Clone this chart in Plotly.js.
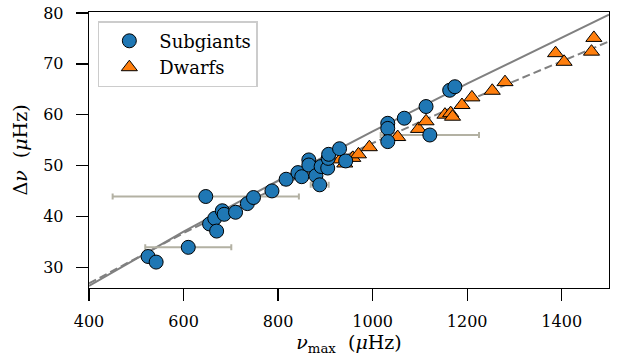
<!DOCTYPE html>
<html>
<head>
<meta charset="utf-8">
<script src="https://cdn.plot.ly/plotly-3.0.1.min.js"></script>
<style>html,body{margin:0;padding:0;background:#fff;}#chart{width:619px;height:361px;}</style>
</head>
<body>
<div id="chart"></div>
<script>
// Subgiants (circles)
const sgX = [525, 542, 610, 647, 655, 666, 670, 682, 686, 710, 735, 748, 787, 817, 842, 850, 865, 865, 880, 888, 891, 905, 906, 907, 930, 943, 1032, 1032, 1032, 1067, 1113, 1121, 1163, 1174];
const sgY = [32.1, 31.0, 33.9, 43.9, 38.5, 39.6, 37.1, 41.1, 40.4, 40.8, 42.5, 43.7, 45.0, 47.3, 48.6, 47.8, 51.1, 50.1, 48.0, 46.2, 49.8, 49.5, 51.4, 52.2, 53.3, 50.9, 58.3, 57.3, 54.7, 59.3, 61.6, 56.0, 64.8, 65.5];
// Dwarfs (triangles)
const dwX = [932, 941, 958, 970, 993, 1053, 1097, 1113, 1153, 1165, 1169, 1189, 1210, 1253, 1280, 1387, 1405, 1463, 1468];
const dwY = [51.2, 50.4, 51.5, 52.2, 53.6, 55.6, 57.2, 58.7, 60.0, 60.3, 59.6, 61.9, 63.4, 64.7, 66.4, 72.1, 70.4, 72.4, 75.1];
// Horizontal uncertainty bars on selected subgiants
const errX = [647, 610, 1121, 888];
const errY = [43.9, 33.9, 56.0, 46.2];
const errDX = [197, 91, 104, 19];
// Relations
const relX = [400, 600, 800, 1000, 1200, 1400, 1500];
const fitSolidY = [26.3, 37.0, 47.0, 56.7, 66.1, 75.2, 79.7];
const fitDashY = [26.8, 36.7, 45.8, 54.4, 62.7, 70.6, 74.4];
// Ticks
const xTicks = [400, 600, 800, 1000, 1200, 1400];
const yTicks = [30, 40, 50, 60, 70, 80];

const FONT = 'DejaVu Serif';
const traces = [
  {x: relX, y: fitSolidY, mode: 'lines', line: {color: '#808080', width: 2}, showlegend: false, hoverinfo: 'skip'},
  {x: relX, y: fitDashY, mode: 'lines', line: {color: '#808080', width: 2, dash: '8px,4px'}, showlegend: false, hoverinfo: 'skip'},
  {x: errX, y: errY, mode: 'markers', marker: {opacity: 0, size: 1}, showlegend: false, hoverinfo: 'skip',
   error_x: {type: 'data', array: errDX, symmetric: true, color: '#b3b1a3', thickness: 2, width: 3}},
  {x: dwX, y: dwY, mode: 'markers', name: 'Dwarfs', legendrank: 2,
   marker: {symbol: 'triangle-up', size: 14, color: '#ff7f0e', line: {color: '#000', width: 1}}},
  {x: sgX, y: sgY, mode: 'markers', name: 'Subgiants', legendrank: 1,
   marker: {symbol: 'circle', size: 14, color: '#1f77b4', line: {color: '#000', width: 1}}}
];

const axisCommon = {
  showline: true, mirror: true, linecolor: '#000', linewidth: 1.3,
  ticks: 'outside', ticklen: 12, tickwidth: 1.3, tickcolor: '#000',
  showgrid: false, zeroline: false,
  tickfont: {family: FONT, size: 16, color: '#000'}
};

const layout = {
  width: 619, height: 361,
  margin: {l: 89, r: 10, t: 12, b: 73},
  paper_bgcolor: '#fff', plot_bgcolor: '#fff',
  font: {family: FONT, size: 16, color: '#000'},
  xaxis: Object.assign({}, axisCommon, {
    range: [400, 1500], tickvals: xTicks, ticklabelstandoff: 6,
    title: {text: '<i>ν</i><sub>max</sub>  (<i>μ</i>Hz)', font: {family: FONT, size: 19}, standoff: 6}
  }),
  yaxis: Object.assign({}, axisCommon, {
    range: [25.9, 80.2], tickvals: yTicks, ticklabelstandoff: 9,
    title: {text: 'Δ<i>ν</i>  (<i>μ</i>Hz)', font: {family: FONT, size: 19}, standoff: 10}
  }),
  legend: {
    x: 0.017, y: 0.967, xanchor: 'left', yanchor: 'top',
    bgcolor: 'rgba(255,255,255,0.8)', bordercolor: '#cccccc', borderwidth: 1.5,
    font: {family: FONT, size: 18, color: '#000'},
    traceorder: 'normal', itemwidth: 50
  },
  showlegend: true
};

Plotly.newPlot('chart', traces, layout, {displayModeBar: false, staticPlot: true});
</script>
</body>
</html>
